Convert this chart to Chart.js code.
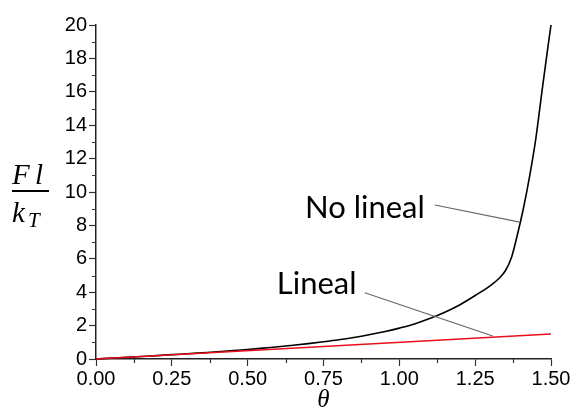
<!DOCTYPE html>
<html>
<head>
<meta charset="utf-8">
<script src="https://cdn.jsdelivr.net/npm/chart.js@4/dist/chart.umd.min.js"></script>
<style>
  html, body { margin: 0; padding: 0; background: #fff; }
  #wrap { width: 576px; height: 418px; }
</style>
</head>
<body>
<div id="wrap"><canvas id="chart"></canvas></div>
<script>
// values
var theta     = [0, 0.05, 0.1, 0.15, 0.2, 0.25, 0.3, 0.35, 0.4, 0.45, 0.5, 0.55, 0.6, 0.65, 0.7, 0.75, 0.8, 0.85, 0.9, 0.95, 1.0, 1.05, 1.1, 1.15, 1.2, 1.25, 1.3, 1.33, 1.35, 1.37, 1.39, 1.41, 1.43, 1.45, 1.47, 1.49, 1.5];
var noLineal  = [0, 0.05, 0.10, 0.15, 0.20, 0.26, 0.31, 0.37, 0.43, 0.50, 0.57, 0.65, 0.73, 0.82, 0.92, 1.03, 1.15, 1.29, 1.45, 1.63, 1.85, 2.10, 2.42, 2.80, 3.25, 3.80, 4.40, 4.85, 5.3, 6.1, 7.5, 9.1, 11.0, 13.2, 16.0, 18.7, 20];
var linealTheta = [0, 1.5];
var lineal      = [0, 1.5];

var xTicks = [0, 0.25, 0.5, 0.75, 1.0, 1.25, 1.5];
var yTicks = [0, 2, 4, 6, 8, 10, 12, 14, 16, 18, 20];

// callout labels, anchored in data units
var notes = [
  { text: 'No lineal', at: [0.689, 9.04], from: [1.117, 9.22], to: [1.397, 8.2] },
  { text: 'Lineal',    at: [0.596, 4.49], from: [0.886, 3.97], to: [1.308, 1.38] }
];

function toPoints(xs, ys) {
  return xs.map(function (x, i) { return { x: x, y: ys[i] }; });
}

var extras = {
  id: 'extras',
  afterDraw: function (chart) {
    var ctx = chart.ctx;
    var xs = chart.scales.x, ys = chart.scales.y;
    var area = chart.chartArea;
    ctx.save();

    // minor ticks
    ctx.strokeStyle = '#333';
    ctx.lineWidth = 1.2;
    ctx.beginPath();
    for (var i = 0; i < xTicks.length - 1; i++) {
      var px = Math.round(xs.getPixelForValue((xTicks[i] + xTicks[i + 1]) / 2)) + 0.5;
      ctx.moveTo(px, area.bottom);
      ctx.lineTo(px, area.bottom + 4);
    }
    for (var j = 0; j < yTicks.length - 1; j++) {
      var py = Math.round(ys.getPixelForValue((yTicks[j] + yTicks[j + 1]) / 2)) + 0.5;
      ctx.moveTo(area.left, py);
      ctx.lineTo(area.left - 4, py);
    }
    ctx.stroke();

    // callouts
    notes.forEach(function (n) {
      ctx.strokeStyle = '#666';
      ctx.lineWidth = 1.2;
      ctx.beginPath();
      ctx.moveTo(xs.getPixelForValue(n.from[0]), ys.getPixelForValue(n.from[1]));
      ctx.lineTo(xs.getPixelForValue(n.to[0]), ys.getPixelForValue(n.to[1]));
      ctx.stroke();
      ctx.fillStyle = '#000';
      ctx.font = '31px Lato';
      ctx.textAlign = 'left';
      ctx.textBaseline = 'middle';
      ctx.fillText(n.text, xs.getPixelForValue(n.at[0]), ys.getPixelForValue(n.at[1]));
    });

    // y axis title: Fl / k_T
    ctx.fillStyle = '#000';
    ctx.textBaseline = 'alphabetic';
    ctx.textAlign = 'left';
    ctx.font = 'italic 29px "Liberation Serif"';
    ctx.fillText('F', 12, 184);
    ctx.fillText('l', 35, 184);
    ctx.fillRect(12, 190, 37, 2);
    ctx.fillText('k', 12, 222);
    ctx.font = 'italic 21px "Liberation Serif"';
    ctx.fillText('T', 28, 227);

    ctx.restore();
  }
};

new Chart(document.getElementById('chart'), {
  type: 'line',
  data: {
    datasets: [{
      data: toPoints(linealTheta, lineal),
      borderColor: '#e8101a',
      borderWidth: 1.6,
      pointRadius: 0,
      clip: false
    }, {
      data: toPoints(theta, noLineal),
      borderColor: '#000',
      borderWidth: 1.6,
      pointRadius: 0,
      cubicInterpolationMode: 'monotone',
      clip: false
    }]
  },
  plugins: [extras],
  options: {
    responsive: true,
    maintainAspectRatio: false,
    animation: false,
    layout: { padding: { top: 25, right: 25, left: 0, bottom: 0 } },
    plugins: {
      legend: { display: false },
      tooltip: { enabled: false }
    },
    scales: {
      x: {
        type: 'linear',
        min: 0,
        max: 1.5,
        afterFit: function (scale) { scale.height = 59; },
        border: { color: '#222', width: 1.5 },
        grid: { drawOnChartArea: false, tickLength: 7, tickColor: '#333', tickWidth: 1.2 },
        afterBuildTicks: function (scale) { scale.ticks = xTicks.map(function (v) { return { value: v }; }); },
        ticks: {
          color: '#000',
          font: { family: '"Liberation Sans", Arial', size: 20 },
          padding: 1,
          maxRotation: 0,
          callback: function (v) { return v.toFixed(2); }
        },
        title: {
          display: true,
          text: 'θ',
          color: '#000',
          font: { family: '"Liberation Serif"', style: 'italic', size: 25 },
          padding: { top: 0, bottom: 3 }
        }
      },
      y: {
        min: 0,
        max: 20,
        afterFit: function (scale) { scale.width = 96; },
        border: { color: '#222', width: 1.5 },
        grid: { drawOnChartArea: false, tickLength: 7, tickColor: '#333', tickWidth: 1.2 },
        afterBuildTicks: function (scale) { scale.ticks = yTicks.map(function (v) { return { value: v }; }); },
        ticks: {
          color: '#000',
          font: { family: '"Liberation Sans", Arial', size: 20 },
          padding: 2
        }
      }
    }
  }
});
</script>
</body>
</html>
